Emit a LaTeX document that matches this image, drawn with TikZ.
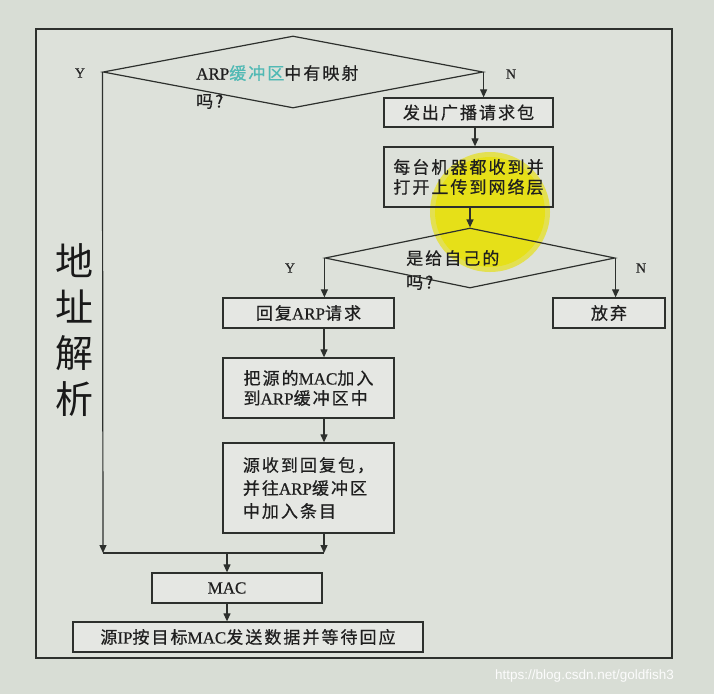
\documentclass[tikz,border=0pt]{standalone}
\usepackage{fontspec}
\usetikzlibrary{shapes.geometric,arrows.meta}
\newfontfamily\cjk{Noto Sans CJK SC}[LetterSpace=12,FakeBold=0.6]
\newfontfamily\bigcjk{Noto Sans CJK SC}
\newfontfamily\latf{Liberation Serif}[FakeBold=0.6]
\newfontfamily\wmf{Liberation Sans}
\newcommand\Lat[1]{{\latf #1}}
\definecolor{bg}{RGB}{216,221,213}
\definecolor{inner}{RGB}{221,225,218}
\definecolor{boxfill}{RGB}{229,231,227}
\definecolor{ln}{RGB}{45,48,45}
\definecolor{cy}{RGB}{80,185,180}
\definecolor{hl}{RGB}{230,224,24}
\begin{document}
\begin{tikzpicture}[x=1pt,y=-1pt,
  box/.style={draw=ln, line width=1.3pt, fill=boxfill, inner sep=0pt, align=left,
              font=\cjk\fontsize{17}{20}\selectfont, text=black!88},
  dia/.style={shape=diamond, draw=ln, line width=1.2pt, inner sep=0pt},
  dtext/.style={inner sep=0pt, align=left, anchor=west, text=black!88},
  arr/.style={draw=ln, line width=1.2pt, -{Triangle[length=8pt,width=7pt]}},
  line/.style={draw=ln, line width=1.2pt},
  yn/.style={inner sep=0pt, font=\latf\fontsize{14}{16}\selectfont, text=black!85}]
\useasboundingbox (0,0) rectangle (714,694);
\fill[bg] (0,0) rectangle (714,694);
\draw[ln, line width=1.8pt, fill=inner] (36,29) rectangle (672,658);
\fill[hl!70!inner] (490,212) circle [radius=60pt];
\fill[hl] (490,212) circle [radius=55pt];

% side label
\node[inner sep=0pt, align=center, font=\bigcjk\fontsize{38}{46}\selectfont, text=black!90] (side) at (74,330) {地\\址\\解\\析};

% first decision
\node[dia, minimum width=380pt, minimum height=72pt] (d1) at (293,72) {};
\node[dtext, font=\cjk\fontsize{17}{28}\selectfont] (d1t) at (196,87) {\Lat{ARP}\textcolor{cy}{缓冲区}中有映射\\吗?};
\node[yn] (y1) at (80,73) {Y};
\node[yn] (n1) at (511,74) {N};

\node[box, minimum width=169pt, minimum height=29pt] (b1) at (468.5,112.5) {发出广播请求包};
\node[box, fill=none, minimum width=169pt, minimum height=60pt] (b2) at (468.5,177) {每台机器都收到并\\打开上传到网络层};

% second decision
\node[dia, minimum width=290pt, minimum height=60pt] (d2) at (470,258) {};
\node[dtext, font=\cjk\fontsize{17}{24}\selectfont] (d2t) at (406,270) {是给自己的\\吗?};
\node[yn] (y2) at (290,268) {Y};
\node[yn] (n2) at (641,268) {N};

\node[box, minimum width=171pt, minimum height=30pt] (b3) at (308.5,313) {回复\Lat{ARP}请求};
\node[box, minimum width=112pt, minimum height=30pt] (b5) at (609,313) {放弃};
\node[box, minimum width=171pt, minimum height=60pt] (b4) at (308.5,388) {把源的\Lat{MAC}加入\\到\Lat{ARP}缓冲区中};
\node[box, minimum width=171pt, minimum height=90pt, font=\cjk\fontsize{17}{23}\selectfont] (b6) at (308.5,488) {源收到回复包，\\并往\Lat{ARP}缓冲区\\中加入条目};
\node[box, minimum width=170pt, minimum height=30pt] (mac) at (237,588) {\Lat{MAC}\hspace*{20pt}};
\node[box, minimum width=350pt, minimum height=30pt] (fin) at (248,637) {源\Lat{IP}按目标\Lat{MAC}发送数据并等待回应};

\coordinate (L) at (103,553);
\coordinate (R) at (324,553);
\coordinate (M) at (227,553);

% connectors
\draw[arr] (d1.west) -- (L);
\draw[arr] (d1.east) -- (d1.east |- b1.north);
\draw[arr] ([xshift=6.5pt]b1.south) -- ([xshift=6.5pt]b1.south |- b2.north);
\draw[arr] (d2.north |- b2.south) -- (d2.north);
\draw[arr] (d2.west) -- (d2.west |- b3.north);
\draw[arr] (d2.east) -- (d2.east |- b5.north);
\draw[arr] (R |- b3.south) -- (R |- b4.north);
\draw[arr] (R |- b4.south) -- (R |- b6.north);
\draw[arr] (R |- b6.south) -- (R);
\draw[line] (L) -- (R);
\draw[arr] (M) -- (M |- mac.north);
\draw[arr] (M |- mac.south) -- (M |- fin.north);

\node[anchor=west, inner sep=0pt, font=\wmf\fontsize{13.5}{15}\selectfont, text=white!92!bg] (wm) at (495,676) {https://blog.csdn.net/goldfish3};
\end{tikzpicture}
\end{document}
